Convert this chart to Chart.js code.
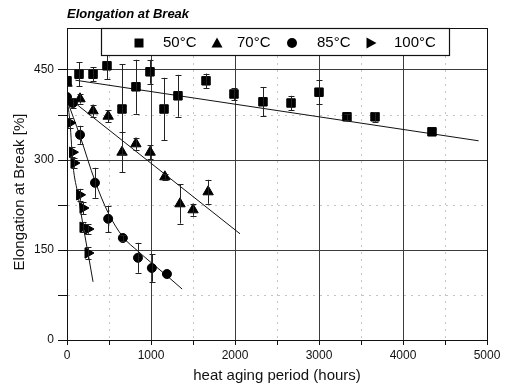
<!DOCTYPE html>
<html>
<head>
<meta charset="utf-8">
<script src="https://cdn.jsdelivr.net/npm/chart.js@4.4.1/dist/chart.umd.min.js"></script>
<style>
  html, body { margin: 0; padding: 0; background: #fff; }
  #wrap { width: 508px; height: 390px; }
</style>
</head>
<body>
<div id="wrap"><canvas id="chart" width="508" height="390"></canvas></div>
<script>
// Elongation at break vs. heat aging time, four aging temperatures
const seriesNames = ['50°C', '70°C', '85°C', '100°C'];

const hours50 = [0, 143, 310, 476, 655, 821, 988, 1155, 1321, 1655, 1988, 2333, 2667, 3000, 3333, 3667, 4345];
const elong50 = [432, 443, 443, 457, 385, 422, 447, 385, 407, 432, 410, 397, 395, 413, 372, 372, 347];
const err50   = [0, 20, 12, 22, 75, 45, 20, 52, 35, 12, 10, 24, 12, 20, 5, 8, 0];

const hours70 = [0, 155, 310, 490, 655, 820, 990, 1165, 1345, 1500, 1680];
const elong70 = [428, 402, 382, 373, 313, 327, 313, 272, 227, 217, 247];
const err70   = [0, 8, 10, 10, 33, 10, 12, 5, 33, 10, 20];

const hours85 = [0, 70, 155, 333, 490, 665, 845, 1010, 1190];
const elong85 = [405, 395, 342, 262, 202, 170, 137, 120, 110];
const err85   = [0, 8, 15, 25, 22, 5, 25, 23, 0];

const hours100 = [0, 36, 65, 83, 150, 190, 190, 250, 250];
const elong100 = [400, 362, 313, 295, 242, 220, 188, 185, 145];
const err100   = [0, 8, 8, 8, 10, 10, 8, 8, 10];

// Fitted trend lines
const fitHours50 = [100, 4900];
const fitElong50 = [433, 332];
const fitHours70 = [95, 2060];
const fitElong70 = [395, 177];
const fitHours85 = [0, 155, 333, 490, 665, 845, 1010, 1190, 1370];
const fitElong85 = [400, 340, 265, 212, 172, 148, 128, 107, 85];
const fitHours100 = [0, 36, 71, 131, 190, 250, 310];
const fitElong100 = [403, 362, 292, 242, 192, 145, 97];

// Axis ticks (major ticks are labelled, minor ones get faint dotted grid lines)
const xTickValues = [0, 500, 1000, 1500, 2000, 2500, 3000, 3500, 4000, 4500, 5000];
const xTickLabels = ['0', '', '1000', '', '2000', '', '3000', '', '4000', '', '5000'];
const yTickValues = [0, 75, 150, 225, 300, 375, 450];
const yTickLabels = ['0', '', '150', '', '300', '', '450'];

const FONT = '"Liberation Sans", Arial, Helvetica, sans-serif';

function pts(xs, ys) { return xs.map((x, i) => ({ x: x, y: ys[i] })); }
function isLabelled(values, labels, v) {
  const i = values.indexOf(v);
  return i >= 0 && labels[i] !== '';
}

function markerSet(label, xs, ys, errs, style, rotation, radius) {
  return {
    label: label,
    data: pts(xs, ys),
    errors: errs,
    pointStyle: style,
    rotation: rotation,
    radius: radius,
    hoverRadius: radius,
    backgroundColor: '#000',
    borderColor: '#000',
    borderWidth: 1,
    showLine: false,
    order: 1
  };
}

function fitLine(xs, ys) {
  return {
    label: '',
    data: pts(xs, ys),
    showLine: true,
    pointRadius: 0,
    pointHoverRadius: 0,
    borderColor: '#111',
    borderWidth: 1,
    cubicInterpolationMode: 'monotone',
    fill: false,
    order: 2
  };
}

// Vertical error bars with caps
const errorBars = {
  id: 'errorBars',
  afterDatasetsDraw(chart) {
    const ctx = chart.ctx;
    const xs = chart.scales.x, ys = chart.scales.y;
    ctx.save();
    ctx.strokeStyle = '#222';
    ctx.lineWidth = 1;
    chart.data.datasets.forEach(ds => {
      if (!ds.errors) return;
      ds.data.forEach((p, i) => {
        const e = ds.errors[i];
        if (!e) return;
        const px = Math.round(xs.getPixelForValue(p.x)) + 0.5;
        const yTop = ys.getPixelForValue(p.y + e);
        const yBot = ys.getPixelForValue(p.y - e);
        ctx.beginPath();
        ctx.moveTo(px, yTop); ctx.lineTo(px, yBot);
        ctx.moveTo(px - 3, Math.round(yTop) + 0.5); ctx.lineTo(px + 3, Math.round(yTop) + 0.5);
        ctx.moveTo(px - 3, Math.round(yBot) + 0.5); ctx.lineTo(px + 3, Math.round(yBot) + 0.5);
        ctx.stroke();
      });
    });
    ctx.restore();
  }
};

// Plot frame, chart title, y-axis title and the boxed legend inside the plot
const decorations = {
  id: 'decorations',
  afterDraw(chart) {
    const ctx = chart.ctx;
    const a = chart.chartArea;
    ctx.save();
    ctx.strokeStyle = '#111';
    ctx.lineWidth = 1;
    ctx.strokeRect(Math.round(a.left) + 0.5, Math.round(a.top) + 0.5,
                   Math.round(a.right - a.left), Math.round(a.bottom - a.top));

    // title
    ctx.fillStyle = '#000';
    ctx.font = 'italic bold 13px ' + FONT;
    ctx.textBaseline = 'alphabetic';
    ctx.textAlign = 'left';
    ctx.fillText('Elongation at Break', a.left, 18);

    // y-axis title
    ctx.save();
    ctx.translate(20, (a.top + a.bottom) / 2 + 8);
    ctx.rotate(-Math.PI / 2);
    ctx.font = '15px ' + FONT;
    ctx.fillStyle = '#111';
    ctx.textAlign = 'center';
    ctx.textBaseline = 'middle';
    ctx.fillText('Elongation at Break [%]', 0, 0);
    ctx.restore();

    // legend box
    const bx = a.left + 34, by = a.top, bw = 348, bh = 27;
    ctx.fillStyle = '#fff';
    ctx.fillRect(bx, by, bw, bh);
    ctx.strokeStyle = '#111';
    ctx.lineWidth = 1.2;
    ctx.strokeRect(bx + 0.5, by + 0.5, bw, bh);

    const cy = by + 15;
    const items = [
      { style: 'rect', mx: bx + 38, tx: bx + 62 },
      { style: 'triangle', mx: bx + 116, tx: bx + 136 },
      { style: 'circle', mx: bx + 191, tx: bx + 216 },
      { style: 'rtriangle', mx: bx + 270, tx: bx + 293 }
    ];
    ctx.fillStyle = '#000';
    ctx.textAlign = 'left';
    items.forEach((it, i) => {
      const m = it.mx;
      ctx.beginPath();
      if (it.style === 'rect') {
        ctx.rect(m - 4.5, cy - 4.5, 9, 9);
      } else if (it.style === 'triangle') {
        ctx.moveTo(m, cy - 5.5); ctx.lineTo(m + 5.5, cy + 4.5); ctx.lineTo(m - 5.5, cy + 4.5);
        ctx.closePath();
      } else if (it.style === 'circle') {
        ctx.arc(m, cy, 5, 0, Math.PI * 2);
      } else {
        ctx.moveTo(m + 5.5, cy); ctx.lineTo(m - 4.5, cy - 5.5); ctx.lineTo(m - 4.5, cy + 5.5);
        ctx.closePath();
      }
      ctx.fill();
      ctx.font = '15px ' + FONT;
      ctx.textBaseline = 'middle';
      ctx.fillText(seriesNames[i], it.tx, cy);
    });
    ctx.restore();
  }
};

const chart = new Chart(document.getElementById('chart'), {
  type: 'scatter',
  data: {
    datasets: [
      markerSet(seriesNames[0], hours50, elong50, err50, 'rect', 0, 6),
      markerSet(seriesNames[1], hours70, elong70, err70, 'triangle', 0, 6),
      markerSet(seriesNames[2], hours85, elong85, err85, 'circle', 0, 4.5),
      markerSet(seriesNames[3], hours100, elong100, err100, 'triangle', 90, 6),
      fitLine(fitHours50, fitElong50),
      fitLine(fitHours70, fitElong70),
      fitLine(fitHours85, fitElong85),
      fitLine(fitHours100, fitElong100)
    ]
  },
  options: {
    responsive: false,
    devicePixelRatio: 1,
    animation: false,
    layout: { padding: { left: 0, right: 21, top: 28, bottom: 0 } },
    plugins: {
      legend: { display: false },
      title: { display: false },
      tooltip: { enabled: false }
    },
    scales: {
      x: {
        type: 'linear',
        min: 0, max: 5000,
        afterFit(s) { s.height = 50; },
        afterBuildTicks(s) { s.ticks = xTickValues.map(v => ({ value: v })); },
        ticks: {
          autoSkip: false,
          maxRotation: 0,
          padding: 3,
          color: '#111',
          font: { family: FONT, size: 12 },
          callback: (v, i) => xTickLabels[i]
        },
        grid: {
          color: c => (c.tick && isLabelled(xTickValues, xTickLabels, c.tick.value) ? '#3c3c3c' : '#c4c4c4'),
          tickColor: '#111',
          tickLength: 5,
          lineWidth: 1
        },
        border: {
          color: '#111', width: 1,
          dash: c => (c.tick && !isLabelled(xTickValues, xTickLabels, c.tick.value) ? [2, 5] : [])
        },
        title: {
          display: true,
          text: 'heat aging period (hours)',
          color: '#111',
          font: { family: FONT, size: 15 },
          padding: { top: 0, bottom: 5 }
        }
      },
      y: {
        type: 'linear',
        min: 0, max: 520,
        afterFit(s) { s.width = 67; },
        afterBuildTicks(s) { s.ticks = yTickValues.map(v => ({ value: v })); },
        ticks: {
          autoSkip: false,
          padding: 4,
          color: '#111',
          font: { family: FONT, size: 12 },
          callback: (v, i) => yTickLabels[i]
        },
        grid: {
          color: c => (c.tick && isLabelled(yTickValues, yTickLabels, c.tick.value) ? '#3c3c3c' : '#c4c4c4'),
          tickColor: '#111',
          tickLength: 9,
          lineWidth: 1
        },
        border: {
          color: '#111', width: 1,
          dash: c => (c.tick && !isLabelled(yTickValues, yTickLabels, c.tick.value) ? [2, 5] : [])
        },
        title: { display: false }
      }
    }
  },
  plugins: [errorBars, decorations]
});
</script>
</body>
</html>
